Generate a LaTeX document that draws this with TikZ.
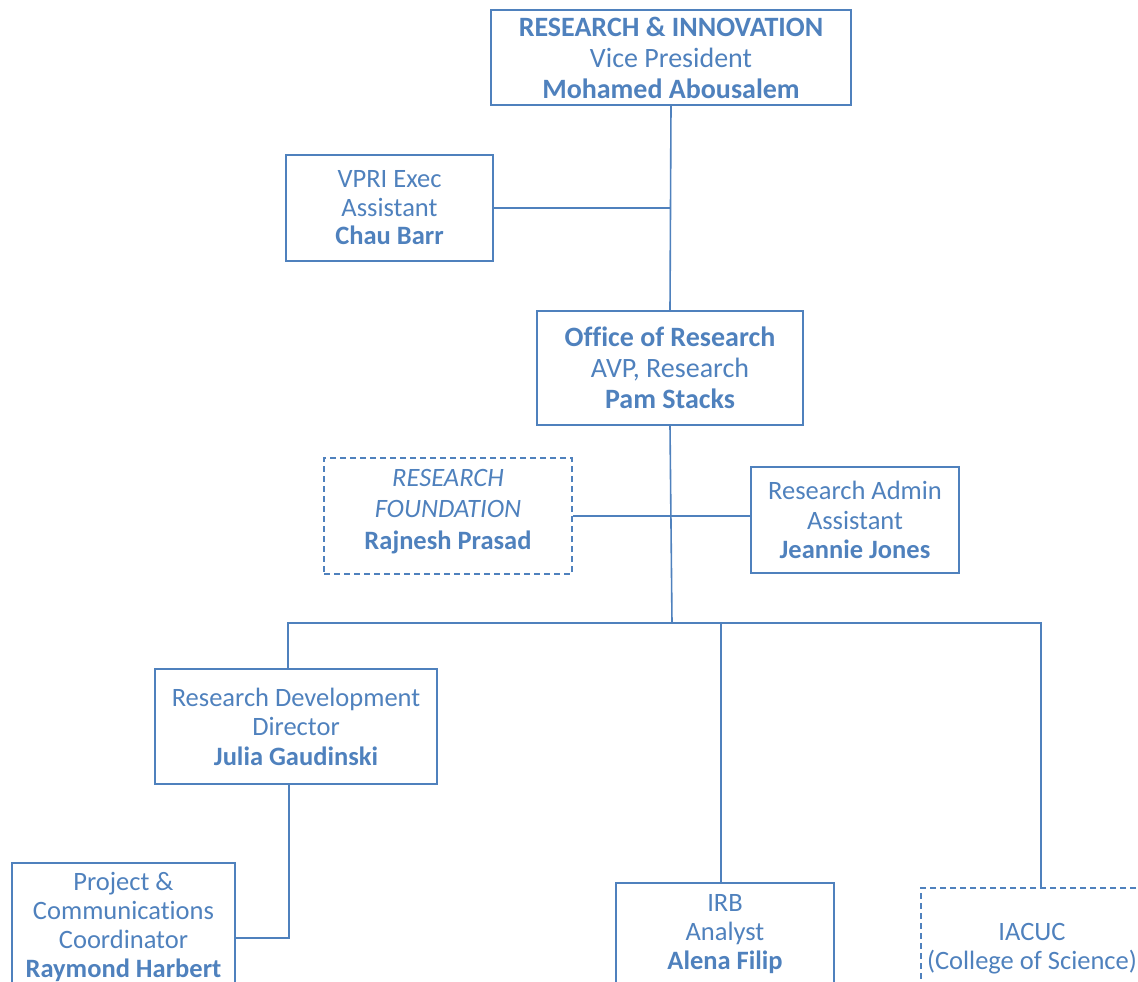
\documentclass[tikz,border=0pt]{standalone}
\usepackage{fontspec}
\setmainfont{Carlito}[Ligatures=NoCommon]
\definecolor{blu}{RGB}{79,129,189}
\begin{document}
\begin{tikzpicture}[x=1pt,y=-1pt,
  box/.style={draw=blu,line width=1.6pt,text=blu,align=center,inner sep=0pt,
    font=\fontsize{26.5}{29.5}\selectfont},
  bigbox/.style={box,font=\fontsize{28}{31}\selectfont},
  dbox/.style={box,dash pattern=on 6pt off 4pt},
  conn/.style={draw=blu,line width=1.6pt}]
\useasboundingbox (0,0) rectangle (1138,982);
\clip (0,0) rectangle (1138,982);
\node[bigbox,minimum width=360,minimum height=95] (t) at (671,57.5)
  {\textbf{RESEARCH \& INNOVATION}\\Vice President\\\textbf{Mohamed Abousalem}};
\node[box,minimum width=207,minimum height=106,font=\fontsize{26.5}{28.5}\selectfont] (v) at (389.5,208)
  {VPRI Exec\\Assistant\\\textbf{Chau Barr}};
\node[bigbox,minimum width=266,minimum height=114] (o) at (670,368)
  {\textbf{Office of Research}\\AVP, Research\\\textbf{Pam Stacks}};
\node[dbox,minimum width=248,minimum height=116,font=\fontsize{26.5}{31.5}\selectfont] (f) at (448,516)
  {\raisebox{-1.5pt}[0pt][0pt]{\begin{tabular}{@{}c@{}}\textit{RESEARCH}\\\textit{FOUNDATION}\\\textbf{Rajnesh Prasad}\end{tabular}}};
\node[box,minimum width=208,minimum height=106] (a) at (855,520)
  {Research Admin\\Assistant\\\textbf{Jeannie Jones}};
\node[box,minimum width=282,minimum height=115] (r) at (296,726.5)
  {Research Development\\Director\\\textbf{Julia Gaudinski}};
\node[box,minimum width=223,minimum height=127,font=\fontsize{26.5}{29}\selectfont] (p) at (123.5,926.5)
  {Project \&\\Communications\\Coordinator\\\textbf{Raymond Harbert}};
\node[box,minimum width=218,minimum height=102,font=\fontsize{26.5}{29}\selectfont] (i) at (725,934)
  {IRB\\Analyst\\\textbf{Alena Filip}};
\node[dbox,minimum width=222,minimum height=121,font=\fontsize{26.5}{29}\selectfont] (c) at (1032,948.5)
  {IACUC\\(College of Science)};
\coordinate (bus) at (672,623);
\coordinate (rd) at (288,623);
\coordinate (id) at (721,623);
\coordinate (cd) at (1041,623);
\coordinate (pj) at (289,938);
\draw[conn] (t.south) -- (o.north);
\draw[conn] (v.east) -- (v.east -| t.south);
\draw[conn] (f.east) -- (f.east -| a.west);
\draw[conn] (o.south) -- (bus);
\draw[conn] (rd |- r.north) -- (rd) -- (cd) -- (cd |- c.north);
\draw[conn] (id) -- (id |- i.north);
\draw[conn] (pj |- r.south) -- (pj) -- (pj -| p.east);
\end{tikzpicture}
\end{document}
